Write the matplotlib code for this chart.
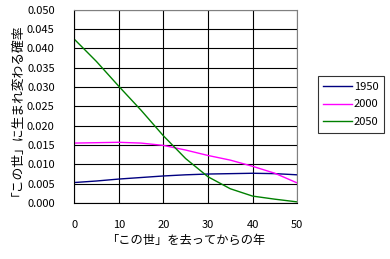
import matplotlib
matplotlib.use('Agg')
import matplotlib.pyplot as plt
import numpy as np

plt.rcParams['font.family'] = ['Noto Sans CJK JP', 'DejaVu Sans']

years = [0, 5, 10, 15, 20, 25, 30, 35, 40, 45, 50]
p1950 = [0.0053, 0.0057, 0.0062, 0.0066, 0.0070, 0.0073, 0.0075, 0.0076, 0.0077, 0.0076, 0.0073]
p2000 = [0.0155, 0.0156, 0.0157, 0.0155, 0.0149, 0.0137, 0.0123, 0.0111, 0.0095, 0.0077, 0.0052]
p2050 = [0.0424, 0.0366, 0.0302, 0.0240, 0.0174, 0.0115, 0.0068, 0.0037, 0.0018, 0.0010, 0.0003]

fig = plt.figure(figsize=(3.9, 2.59), dpi=100)
ax = fig.add_axes([0.190, 0.216, 0.572, 0.747])

ax.plot(years, p1950, color='#000080', lw=1, label='1950')
ax.plot(years, p2000, color='#ff00ff', lw=1, label='2000')
ax.plot(years, p2050, color='#008000', lw=1, label='2050')

ax.set(xlim=(0, 50), xticks=np.arange(0, 51, 10),
       ylim=(0, 0.05), yticks=np.arange(0, 0.0501, 0.005))
ax.set_yticklabels(['%.3f' % t for t in np.arange(0, 0.0501, 0.005)])
ax.grid(color='black', lw=0.8)
ax.tick_params(axis='y', length=0, labelsize=8, pad=14)
ax.tick_params(axis='x', length=0, labelsize=8, pad=12)
for s in ['top', 'right']:
    ax.spines[s].set_color('#808080')

ax.set_xlabel('「この世」を去ってからの年', fontsize=8.8)
ax.set_ylabel('「この世」に生まれ変わる確率', fontsize=9.2)
ax.xaxis.set_label_coords(0.5, -0.16)
ax.yaxis.set_label_coords(-0.255, 0.5)

leg = fig.legend(loc='upper left', bbox_to_anchor=(0.815, 0.706), fontsize=8,
                 frameon=True, fancybox=False, edgecolor='black', borderaxespad=0,
                 handlelength=2.6, handletextpad=0.15, borderpad=0.5, labelspacing=0.7)
leg.get_frame().set_linewidth(0.8)

plt.savefig('out.png')
